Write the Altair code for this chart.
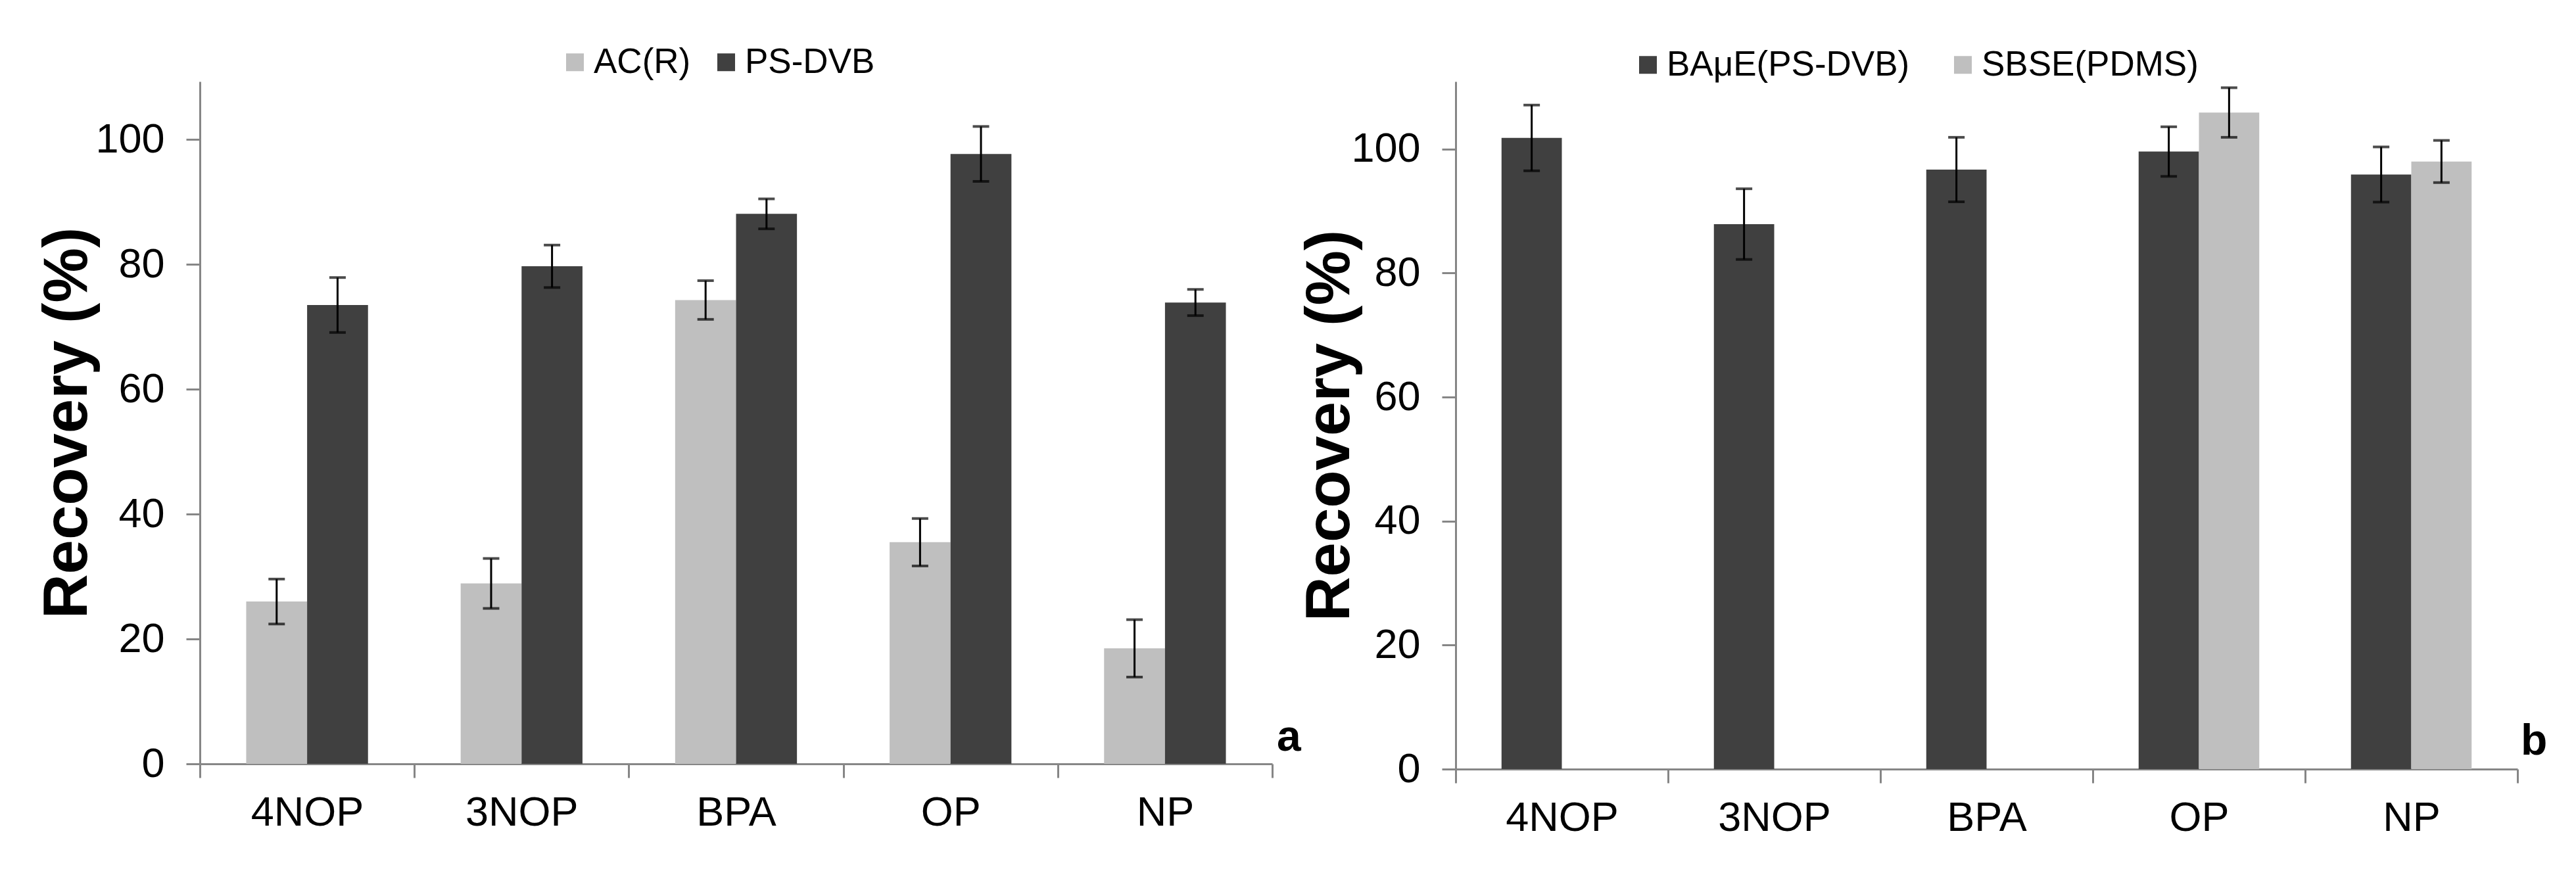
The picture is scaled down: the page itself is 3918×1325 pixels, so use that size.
import altair as alt
import pandas as pd

# Analytes on the x axis
categories = ["4NOP", "3NOP", "BPA", "OP", "NP"]

# Panel a: recoveries (%) with standard deviations
ac_r = [26.0, 28.9, 74.3, 35.5, 18.5]
ac_r_sd = [3.6, 4.0, 3.1, 3.8, 4.6]
ps_dvb = [73.5, 79.7, 88.1, 97.7, 73.9]
ps_dvb_sd = [4.4, 3.4, 2.4, 4.4, 2.1]

# Panel b: BAμE(PS-DVB) vs SBSE(PDMS)
bamue = [101.8, 87.9, 96.7, 99.6, 95.9]
bamue_sd = [5.3, 5.7, 5.2, 4.0, 4.45]
sbse_categories = ["OP", "NP"]
sbse = [105.9, 98.0]
sbse_sd = [4.0, 3.4]

series_a = ["AC(R)", "PS-DVB"]
series_b = ["BAμE(PS-DVB)", "SBSE(PDMS)"]
y_ticks = [0, 20, 40, 60, 80, 100]

DARK = "#404040"
LIGHT = "#BFBFBF"
AXIS = "#868686"
FONT = "Liberation Sans"
BAR_FRACTION = 0.284  # share of a category slot taken by one bar


def frame(cats, vals, sds, name):
    return pd.DataFrame({
        "cat": cats,
        "series": name,
        "value": vals,
        "lo": [v - s for v, s in zip(vals, sds)],
        "hi": [v + s for v, s in zip(vals, sds)],
    })


def panel(frames, series, colors, width, height, y_max, title_x,
          legend_x, legend_y, col_pad, letter, letter_dx, letter_dy):
    bar_w = width / len(categories) * BAR_FRACTION
    x = alt.X(
        "cat:N",
        sort=categories,
        scale=alt.Scale(domain=categories, paddingInner=0, paddingOuter=0),
        axis=alt.Axis(
            title=None, labelAngle=0, tickBand="extent", tickSize=21,
            tickWidth=3, tickColor=AXIS, domainColor=AXIS, domainWidth=3,
            labelFontSize=63, labelPadding=22, labelColor="black",
            labelFont=FONT,
        ),
    )
    y_scale = alt.Scale(domain=[0, y_max], nice=False)
    y_axis = alt.Axis(
        values=y_ticks, title="Recovery (%)", grid=False,
        titleFontSize=94, titleFontWeight="bold", titleFont=FONT,
        titleColor="black", titleX=title_x, titleY=height / 2,
        titleBaseline="alphabetic", titleAngle=270,
        tickSize=21, tickWidth=3, tickColor=AXIS,
        domainColor=AXIS, domainWidth=3,
        labelFontSize=63, labelPadding=33, labelColor="black", labelFont=FONT,
    )
    color = alt.Color(
        "series:N",
        scale=alt.Scale(domain=series, range=colors),
        legend=alt.Legend(
            title=None, orient="none", direction="horizontal",
            legendX=legend_x, legendY=legend_y, padding=0,
            symbolType="square", symbolSize=729, symbolStrokeWidth=0,
            labelFontSize=53, labelFont=FONT, labelColor="black",
            labelOffset=2, columnPadding=col_pad, labelLimit=600,
        ),
    )

    layers = []
    for i, df in enumerate(frames):
        shift = (i - 0.5) * bar_w  # side-by-side pair centred in the slot
        base = alt.Chart(df)
        layers.append(
            base.mark_bar(width=bar_w, xOffset=shift).encode(
                x=x, y=alt.Y("value:Q", scale=y_scale, axis=y_axis),
                color=color,
            )
        )
    for i, df in enumerate(frames):
        shift = (i - 0.5) * bar_w
        base = alt.Chart(df)
        layers.append(
            base.mark_rule(color="black", strokeWidth=3, xOffset=shift).encode(
                x=x, y=alt.Y("lo:Q", scale=y_scale), y2="hi:Q"
            )
        )
        for end in ("lo", "hi"):
            layers.append(
                base.mark_tick(color="black", size=25, thickness=4,
                               xOffset=shift).encode(
                    x=x, y=alt.Y(f"{end}:Q", scale=y_scale)
                )
            )

    tag = alt.Chart(pd.DataFrame({"t": [letter]})).mark_text(
        font=FONT, fontSize=66, fontWeight="bold", color="black",
        align="left", baseline="alphabetic",
    ).encode(
        text="t:N",
        x=alt.value(width + letter_dx),
        y=alt.value(height - letter_dy),
    )
    layers.append(tag)
    return alt.layer(*layers).properties(width=width, height=height)


frames_a = [frame(categories, ac_r, ac_r_sd, series_a[0]),
            frame(categories, ps_dvb, ps_dvb_sd, series_a[1])]
frames_b = [frame(categories, bamue, bamue_sd, series_b[0]),
            frame(sbse_categories, sbse, sbse_sd, series_b[1])]

# Both plot areas share a common top edge; y_max keeps ~9.5 px per percent.
left = panel(frames_a, series_a, [LIGHT, DARK], 1631, 1038, 109.3, -173,
             544, -56, 27, "a", 7, 20)
right = panel(frames_b, series_b, [DARK, LIGHT], 1615, 1046, 110.9, -163,
              266, -52, 54, "b", 5, 22)

chart = (
    alt.hconcat(left, right, spacing=279, bounds="flush")
    .resolve_scale(color="independent", y="independent", x="independent")
    .resolve_legend(color="independent")
    .properties(padding={"left": 56, "top": 68, "right": 0, "bottom": 0},
                background="white")
    .configure_view(stroke=None)
)

chart.save("out.html", embed_options={"renderer": "svg", "actions": False})
